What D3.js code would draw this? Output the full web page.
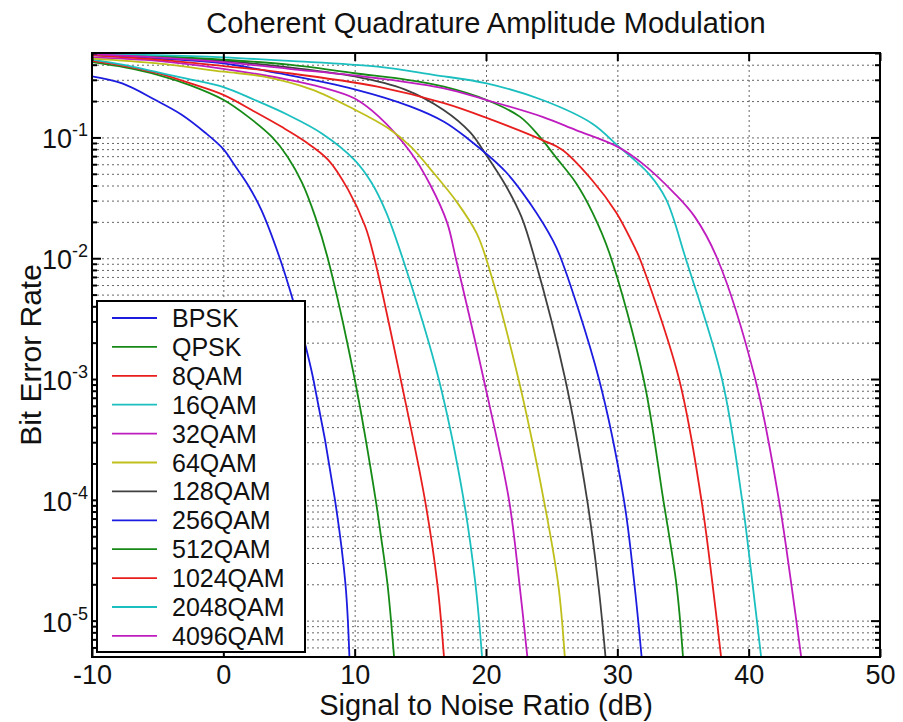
<!DOCTYPE html>
<html>
<head>
<meta charset="utf-8">
<script src="https://cdn.jsdelivr.net/npm/d3@7"></script>
<style>
    body { margin: 0; background: #fff; }
    svg { font-family: Arial, "Liberation Sans", sans-serif; }
    .grid line { stroke: #666; stroke-width: 1; stroke-dasharray: 2, 3; }
    .grid path { display: none; }
    .ticks path { display: none; }
    .ticks line { stroke: #000; stroke-width: 2; }
    .ticks text { font-size: 27px; fill: #111; }
</style>
</head>
<body>
<div id="container"></div>
<script>
// BER curves as [SNR dB, bit error rate]
const bpsk = [[-10, 0.32], [-7.7, 0.28], [-5.2, 0.205], [-3.2, 0.155], [-1.4, 0.11], [0, 0.08], [0.9, 0.058],
    [1.9, 0.04], [2.9, 0.025], [4.3, 0.01], [5.3, 4.5e-3], [6.2, 2e-3], [6.85, 1e-3],
    [8.5, 1e-4], [9.3, 2e-5], [9.6, 5e-6]];
const qpsk = [[-10, 0.42], [-7.5, 0.38], [-5, 0.33], [-2.5, 0.27], [0, 0.205], [1.9, 0.148], [3.7, 0.101],
    [4.9, 0.069], [6.0, 0.042], [7.0, 0.022], [7.9, 0.0105], [10.0, 1e-3],
    [11.6, 1e-4], [12.0, 5e-5], [12.5, 2e-5], [13.0, 5e-6]];
const qam8 = [[-10, 0.43], [-7.5, 0.39], [-5, 0.34], [-2.5, 0.28], [0, 0.225], [2.4, 0.163], [4.4, 0.123],
    [6.2, 0.093], [8.0, 0.065], [9.5, 0.037], [10.8, 0.0184], [11.5, 0.01], [13.5, 1e-3],
    [15.35, 1e-4], [16.3, 2e-5], [16.8, 5e-6]];
const qam16 = [[-10, 0.44], [-7.7, 0.4], [-5.2, 0.35], [-2.7, 0.305], [-0.1, 0.263], [2.4, 0.204], [4.9, 0.154],
    [7.5, 0.108], [10.0, 0.065], [11.3, 0.042], [12.4, 0.024], [13.65, 0.01], [16.4, 1e-3],
    [18.3, 1e-4], [19.2, 2e-5], [19.7, 5e-6]];
const qam32 = [[-10, 0.46], [-5, 0.43], [0, 0.37], [5, 0.3], [7.5, 0.26], [10, 0.21], [11.8, 0.15],
    [14.27, 0.075], [15.78, 0.04], [17.04, 0.0197], [17.7, 0.01], [19.82, 1e-3],
    [21.75, 1e-4], [22.55, 2e-5], [23.15, 5e-6]];
const qam64 = [[-10, 0.45], [-5, 0.41], [0, 0.35], [3, 0.32], [6.7, 0.25], [10, 0.17], [12.5, 0.12],
    [14.27, 0.084], [16.0, 0.051], [17.8, 0.029], [19.3, 0.016], [20.0, 0.01], [22.47, 1e-3],
    [24.4, 1e-4], [25.5, 2e-5], [26.0, 5e-6]];
const qam128 = [[-10, 0.48], [-5, 0.46], [0, 0.43], [5, 0.38], [10, 0.32], [13.8, 0.25], [16.8, 0.168],
    [18.8, 0.11], [20.0, 0.072], [21.5, 0.04], [22.7, 0.022], [23.7, 0.01], [26.03, 1e-3],
    [27.7, 1e-4], [28.55, 2e-5], [29.1, 5e-6]];
const qam256 = [[-10, 0.48], [-5, 0.45], [0, 0.41], [4.2, 0.34], [10, 0.25], [14.27, 0.18], [16.8, 0.135],
    [18.5, 0.1], [21.5, 0.052], [23.4, 0.028], [25.1, 0.014], [25.7, 0.01],
    [28.6, 1e-3], [30.5, 1e-4], [31.3, 2e-5], [31.85, 5e-6]];
const qam512 = [[-10, 0.49], [-5, 0.47], [0, 0.44], [5, 0.4], [10, 0.34], [14, 0.3], [16.8, 0.263],
    [20.05, 0.204], [22.6, 0.148], [24.1, 0.101], [25.3, 0.069], [26.85, 0.042], [28.1, 0.024],
    [29.4, 0.011], [32.0, 1e-3], [33.5, 1e-4], [34.5, 2e-5], [35.0, 5e-6]];
const qam1024 = [[-10, 0.48], [-5, 0.44], [0, 0.39], [5, 0.34], [11.74, 0.263], [16.8, 0.192], [20.05, 0.145],
    [24.3, 0.095], [25.8, 0.079], [28.1, 0.044], [29.9, 0.024], [31.4, 0.0118], [31.7, 0.01],
    [34.7, 1e-3], [36.4, 1e-4], [37.25, 2e-5], [37.9, 5e-6]];
const qam2048 = [[-10, 0.49], [-5, 0.48], [0, 0.46], [5, 0.43], [11.74, 0.385], [16, 0.33], [20.05, 0.28],
    [24.3, 0.204], [28.1, 0.13], [30, 0.086], [32.4, 0.05], [33.7, 0.031], [35.2, 0.01],
    [37.97, 1e-3], [39.5, 1e-4], [40.3, 2e-5], [40.95, 5e-6]];
const qam4096 = [[-10, 0.49], [-5, 0.46], [0, 0.42], [5, 0.37], [11.74, 0.309], [16.8, 0.255], [20.05, 0.204],
    [24.3, 0.148], [26.85, 0.115], [30, 0.084], [31.9, 0.061], [34.4, 0.034], [35.9, 0.022],
    [37.6, 0.01], [40.5, 1e-3], [42.3, 1e-4], [43.25, 2e-5], [44.0, 5e-6]];

const seriesNames = ['BPSK', 'QPSK', '8QAM', '16QAM', '32QAM', '64QAM', '128QAM',
    '256QAM', '512QAM', '1024QAM', '2048QAM', '4096QAM'];
const seriesData = [bpsk, qpsk, qam8, qam16, qam32, qam64, qam128, qam256, qam512, qam1024, qam2048, qam4096];

const xTicks = [-10, 0, 10, 20, 30, 40, 50];
const yExponents = [-1, -2, -3, -4, -5];

// matlab's old line order
const colors = ['#1c1ce0', '#168a16', '#e81e1e', '#1cbfbf', '#bf1cbf', '#bfbf1c', '#404040'];

const svg = d3.select('#container').append('svg')
    .attr('width', 903)
    .attr('height', 722);

const margin = { top: 53, left: 92 };
const width = 788;
const height = 604;

const chart = svg.append('g')
    .attr('transform', `translate(${margin.left}, ${margin.top})`);

const xScale = d3.scaleLinear()
    .domain([-10, 50])
    .range([0, width]);

const yScale = d3.scaleLog()
    .domain([5e-6, 0.5])
    .range([height, 0]);

// every 1..9 x 10^k inside the domain gets a grid line
const yMajor = yExponents.map(e => Math.pow(10, e));
const yAll = [];
for (let e = -6; e <= -1; e++) {
    for (let m = 1; m <= 9; m++) {
        const v = m * Math.pow(10, e);
        if (v >= 5e-6 && v <= 0.5) yAll.push(v);
    }
}
const yMinor = yAll.filter(v => !yMajor.some(m => Math.abs(m - v) / m < 1e-9));

chart.append('defs').append('clipPath')
    .attr('id', 'plotclip')
    .append('rect')
    .attr('width', width)
    .attr('height', height);

// grid
chart.append('g')
    .attr('class', 'grid')
    .attr('transform', `translate(0, ${height})`)
    .call(d3.axisBottom(xScale)
        .tickValues(xTicks.slice(1, -1))
        .tickSize(-height)
        .tickFormat(''));

chart.append('g')
    .attr('class', 'grid')
    .call(d3.axisLeft(yScale)
        .tickValues(yAll)
        .tickSize(-width)
        .tickFormat(''));

// curves
const line = d3.line()
    .x(d => xScale(d[0]))
    .y(d => yScale(d[1]))
    .curve(d3.curveCatmullRom.alpha(0.5));

chart.append('g')
    .attr('clip-path', 'url(#plotclip)')
    .selectAll('path')
    .data(seriesData)
    .enter()
    .append('path')
    .attr('d', line)
    .attr('fill', 'none')
    .attr('stroke', (d, i) => colors[i % colors.length])
    .attr('stroke-width', 1.8);

// ticks, all pointing inwards
chart.append('g')
    .attr('class', 'ticks')
    .attr('transform', `translate(0, ${height})`)
    .call(d3.axisBottom(xScale)
        .tickValues(xTicks)
        .tickSizeInner(-8)
        .tickSizeOuter(0)
        .tickPadding(8)
        .tickFormat(d => `${d}`));

chart.append('g')
    .attr('class', 'ticks')
    .call(d3.axisTop(xScale)
        .tickValues(xTicks)
        .tickSizeInner(-8)
        .tickSizeOuter(0)
        .tickFormat(''));

[0, width].forEach(xPos => {
    const side = xPos === 0 ? d3.axisLeft : d3.axisRight;
    chart.append('g')
        .attr('class', 'ticks')
        .attr('transform', `translate(${xPos}, 0)`)
        .call(side(yScale).tickValues(yMajor).tickSizeInner(-9).tickSizeOuter(0).tickFormat(''));
    chart.append('g')
        .attr('class', 'ticks')
        .attr('transform', `translate(${xPos}, 0)`)
        .call(side(yScale).tickValues(yMinor).tickSizeInner(-5).tickSizeOuter(0).tickFormat(''));
});

// 10^-n labels
const yLabels = chart.append('g')
    .selectAll('text')
    .data(yExponents)
    .enter()
    .append('text')
    .attr('x', -4)
    .attr('y', e => yScale(Math.pow(10, e)) + 11)
    .attr('text-anchor', 'end')
    .attr('font-size', 27)
    .attr('fill', '#111');

yLabels.append('tspan').text('10');
yLabels.append('tspan')
    .attr('dy', -12)
    .attr('font-size', 18)
    .text(e => `${e}`);

// frame
chart.append('rect')
    .attr('width', width)
    .attr('height', height)
    .attr('fill', 'none')
    .attr('stroke', '#000')
    .attr('stroke-width', 2);

// legend
const legend = chart.append('g')
    .attr('transform', 'translate(5, 248)');

legend.append('rect')
    .attr('width', 208)
    .attr('height', 351)
    .attr('fill', '#fff')
    .attr('stroke', '#000')
    .attr('stroke-width', 2);

const legendRows = legend.selectAll('g')
    .data(seriesNames)
    .enter()
    .append('g')
    .attr('transform', (d, i) => `translate(0, ${17 + i * 28.9})`);

legendRows.append('line')
    .attr('x1', 15)
    .attr('x2', 60)
    .attr('stroke', (d, i) => colors[i % colors.length])
    .attr('stroke-width', 1.8);

legendRows.append('text')
    .attr('x', 75)
    .attr('dy', '0.36em')
    .attr('font-size', 25)
    .attr('fill', '#111')
    .text(d => d);

// titles
svg.append('text')
    .attr('x', margin.left + width / 2)
    .attr('y', 33)
    .attr('text-anchor', 'middle')
    .attr('font-size', 29)
    .attr('fill', '#111')
    .text('Coherent Quadrature Amplitude Modulation');

svg.append('text')
    .attr('x', margin.left + width / 2)
    .attr('y', 715)
    .attr('text-anchor', 'middle')
    .attr('font-size', 29)
    .attr('fill', '#111')
    .text('Signal to Noise Ratio (dB)');

svg.append('text')
    .attr('transform', `translate(30, ${margin.top + height / 2}) rotate(-90)`)
    .attr('text-anchor', 'middle')
    .attr('dy', '0.36em')
    .attr('font-size', 30)
    .attr('fill', '#111')
    .text('Bit Error Rate');
</script>
</body>
</html>
